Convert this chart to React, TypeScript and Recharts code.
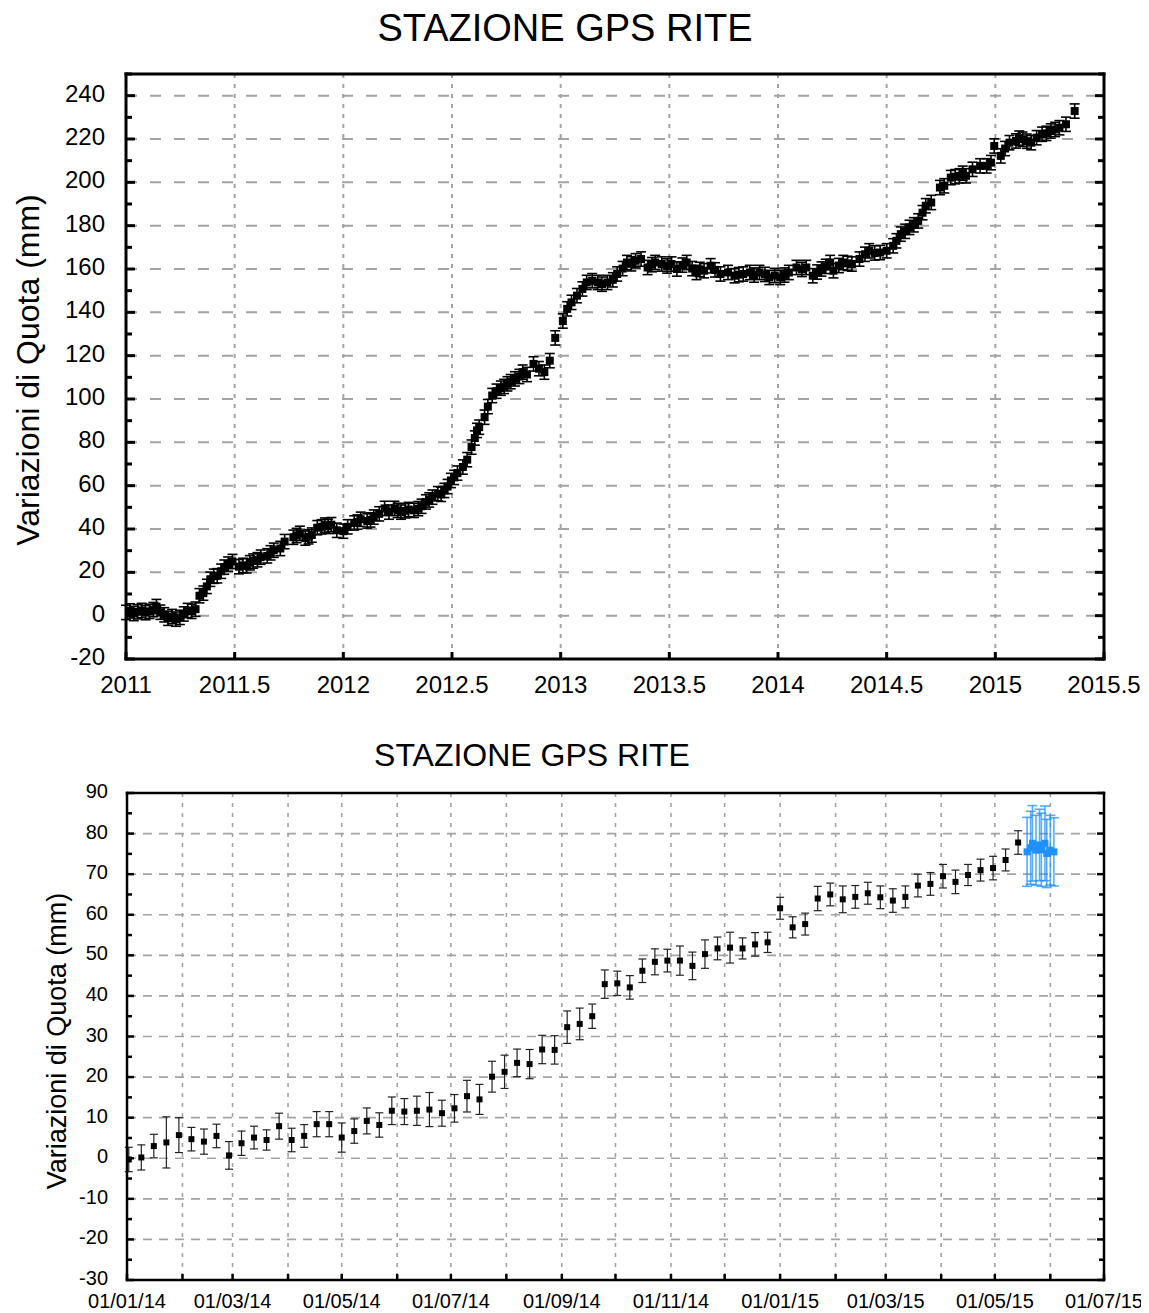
import React from 'react';
import { ScatterChart, Scatter, XAxis, YAxis, ErrorBar, CartesianGrid } from 'recharts';

const FONT = '"Liberation Sans", Arial, Helvetica, sans-serif';

// ---------------- top chart data (decimal year, mm) ----------------
const topSeries: [number, number][] = [
  [2011.000, 1.5], [2011.018, 2.2], [2011.036, 1.0], [2011.054, 1.8], [2011.072, 2.4],
  [2011.090, 1.4], [2011.108, 2.0], [2011.126, 2.8], [2011.140, 4.2], [2011.158, 1.6],
  [2011.176, 0.4], [2011.194, -1.2], [2011.212, -0.4], [2011.230, -1.6], [2011.248, -0.8],
  [2011.266, 0.8], [2011.284, 2.4], [2011.302, 2.0], [2011.320, 3.0], [2011.338, 9.2],
  [2011.356, 10.4], [2011.372, 13.5], [2011.388, 16.8], [2011.404, 18.2], [2011.420, 18.4],
  [2011.438, 20.5], [2011.452, 22.4], [2011.470, 23.8], [2011.490, 25.0], [2011.520, 22.6],
  [2011.538, 23.2], [2011.555, 23.0], [2011.570, 24.4], [2011.585, 25.2], [2011.605, 25.8],
  [2011.620, 27.0], [2011.650, 27.6], [2011.665, 29.0], [2011.680, 30.2], [2011.710, 31.0],
  [2011.730, 34.2], [2011.770, 36.2], [2011.785, 37.0], [2011.800, 38.0], [2011.825, 35.8],
  [2011.840, 36.4], [2011.855, 37.2], [2011.880, 40.6], [2011.900, 41.0], [2011.915, 41.8],
  [2011.930, 41.2], [2011.945, 42.0], [2011.970, 39.4], [2012.000, 39.0], [2012.020, 41.0],
  [2012.050, 42.8], [2012.065, 43.2], [2012.080, 44.5], [2012.110, 43.7], [2012.125, 44.2],
  [2012.140, 45.5], [2012.165, 47.0], [2012.190, 49.5], [2012.210, 47.8], [2012.235, 49.5],
  [2012.250, 48.6], [2012.265, 47.8], [2012.285, 48.4], [2012.300, 49.0], [2012.325, 48.6],
  [2012.345, 49.4], [2012.360, 50.5], [2012.380, 52.5], [2012.395, 53.4], [2012.410, 54.7],
  [2012.435, 56.3], [2012.450, 56.0], [2012.465, 57.8], [2012.480, 59.6], [2012.495, 62.4],
  [2012.510, 63.8], [2012.525, 65.8], [2012.550, 68.6], [2012.570, 72.0], [2012.590, 77.8],
  [2012.605, 82.0], [2012.615, 85.5], [2012.625, 87.0], [2012.650, 91.6], [2012.665, 96.5],
  [2012.685, 101.6], [2012.705, 103.6], [2012.725, 105.0], [2012.740, 105.8], [2012.755, 107.0],
  [2012.770, 108.0], [2012.790, 109.3], [2012.810, 110.4], [2012.825, 112.4], [2012.845, 111.3],
  [2012.875, 116.2], [2012.900, 114.0], [2012.925, 112.4], [2012.950, 117.7], [2012.975, 128.2],
  [2013.010, 136.0], [2013.030, 141.6], [2013.050, 144.6], [2013.075, 147.7], [2013.100, 150.8],
  [2013.120, 153.8], [2013.145, 154.6], [2013.170, 153.8], [2013.190, 153.0], [2013.215, 153.8],
  [2013.240, 155.0], [2013.260, 157.7], [2013.285, 160.2], [2013.305, 163.0], [2013.325, 162.4],
  [2013.345, 163.8], [2013.370, 164.6], [2013.400, 160.7], [2013.420, 162.0], [2013.435, 163.0],
  [2013.465, 162.3], [2013.490, 161.4], [2013.510, 162.3], [2013.535, 160.0], [2013.560, 161.8],
  [2013.580, 163.0], [2013.605, 160.2], [2013.625, 158.4], [2013.640, 159.8], [2013.660, 159.2],
  [2013.690, 161.5], [2013.710, 159.6], [2013.735, 157.7], [2013.770, 158.4], [2013.800, 156.9],
  [2013.820, 157.4], [2013.840, 157.7], [2013.870, 158.4], [2013.890, 157.2], [2013.915, 158.4],
  [2013.940, 157.5], [2013.960, 156.1], [2013.985, 157.0], [2014.010, 156.1], [2014.030, 157.2],
  [2014.050, 158.4], [2014.085, 160.7], [2014.110, 159.8], [2014.130, 160.7], [2014.160, 156.9],
  [2014.180, 158.6], [2014.200, 160.0], [2014.220, 161.2], [2014.240, 163.0], [2014.255, 159.2],
  [2014.280, 161.6], [2014.300, 163.0], [2014.320, 162.6], [2014.340, 162.3], [2014.375, 164.6],
  [2014.400, 166.8], [2014.420, 168.4], [2014.445, 167.4], [2014.470, 167.6], [2014.500, 168.4],
  [2014.530, 170.7], [2014.545, 173.0], [2014.565, 176.1], [2014.585, 177.4], [2014.605, 179.2],
  [2014.625, 180.4], [2014.645, 182.2], [2014.665, 186.0], [2014.680, 189.2], [2014.705, 190.7],
  [2014.745, 197.6], [2014.765, 198.4], [2014.795, 202.2], [2014.815, 202.6], [2014.835, 203.0],
  [2014.850, 204.2], [2014.865, 203.0], [2014.895, 206.0], [2014.930, 207.6], [2014.960, 207.6],
  [2014.980, 209.1], [2014.995, 216.8], [2015.025, 212.2], [2015.045, 215.6], [2015.065, 218.3],
  [2015.095, 219.1], [2015.110, 220.4], [2015.125, 219.9], [2015.145, 219.0], [2015.165, 218.3],
  [2015.190, 220.6], [2015.215, 222.2], [2015.235, 222.6], [2015.255, 223.7], [2015.275, 224.4],
  [2015.295, 225.2], [2015.325, 226.8], [2015.365, 232.9],
];
const TOP_ERR = 3.3;

const topYTicks = [-20, -10, 0, 10, 20, 30, 40, 50, 60, 70, 80, 90, 100, 110, 120, 130, 140, 150, 160, 170, 180, 190, 200, 210, 220, 230, 240, 250];
const topYLabels = [-20, 0, 20, 40, 60, 80, 100, 120, 140, 160, 180, 200, 220, 240];
const topHGrid = [0, 20, 40, 60, 80, 100, 120, 140, 160, 180, 200, 220, 240];
const topXTicks = [2011, 2011.5, 2012, 2012.5, 2013, 2013.5, 2014, 2014.5, 2015, 2015.5];
const topVGrid = [2011.5, 2012, 2012.5, 2013, 2013.5, 2014, 2014.5, 2015];

// ---------------- bottom chart data (days since 01/01/14, mm) ----------------
const bottomDays = [
  1, 8, 15, 22, 29, 36, 43, 50, 57, 64, 71, 78, 85, 92, 99, 106, 113, 120, 127, 134,
  141, 148, 155, 162, 169, 176, 183, 190, 197, 204, 211, 218, 225, 232, 239, 246, 253, 260, 267, 274,
  281, 288, 295, 302, 309, 316, 323, 330, 337, 344, 351, 358, 365, 372, 379, 386, 393, 400, 407, 414,
  421, 428, 435, 442, 449, 456, 463, 470, 477, 484, 491, 498,
];
const bottomValues = [
  -0.3, 0.2, 3.0, 3.9, 5.7, 4.7, 4.1, 5.5, 0.7, 3.7, 5.1, 4.5, 7.9, 4.5, 5.5, 8.4, 8.4, 5.1, 6.7, 9.2,
  8.2, 11.7, 11.5, 11.7, 12.0, 11.1, 12.3, 15.3, 14.5, 20.1, 21.3, 23.5, 23.2, 26.8, 26.7, 32.3, 33.1, 35.0, 42.9, 43.1,
  42.1, 46.2, 48.4, 48.7, 48.7, 47.4, 50.3, 51.7, 51.9, 51.7, 52.7, 53.2, 61.6, 56.9, 57.7, 64.0, 65.0, 63.8, 64.4, 65.3,
  64.3, 63.5, 64.4, 67.2, 67.6, 69.5, 68.1, 69.8, 71.0, 71.5, 73.5, 77.8,
];
const bottomErrors = [
  3.0, 3.1, 2.9, 6.3, 4.3, 2.9, 3.1, 2.9, 3.4, 3.0, 2.8, 2.5, 3.2, 2.9, 2.8, 3.1, 3.1, 3.6, 3.0, 3.2,
  3.0, 3.4, 3.2, 3.6, 4.2, 3.2, 3.4, 3.9, 3.7, 3.8, 4.1, 3.4, 3.6, 3.5, 3.5, 4.0, 3.9, 3.0, 3.5, 3.0,
  2.9, 2.9, 3.2, 2.8, 3.6, 3.4, 3.5, 2.8, 3.8, 2.6, 2.9, 2.5, 2.7, 2.6, 2.7, 3.0, 2.8, 3.3, 2.8, 2.7,
  2.8, 2.9, 2.7, 2.8, 2.8, 2.9, 2.9, 2.6, 2.7, 2.9, 2.7, 2.9,
];
const blueDays = [503, 505, 506, 508, 510, 511, 513, 514, 516, 518];
const blueValues = [75.5, 76.5, 77.6, 75.9, 77.2, 76.0, 77.6, 75.1, 75.9, 75.5];
const blueErrors = [8.5, 9.0, 9.3, 8.6, 8.8, 9.0, 9.2, 8.4, 8.6, 8.4];

const monthDays = [0, 31, 59, 90, 120, 151, 181, 212, 243, 273, 304, 334, 365, 396, 424, 455, 485, 516, 546];
const monthLabels = ['01/01/14', '', '01/03/14', '', '01/05/14', '', '01/07/14', '', '01/09/14', '', '01/11/14', '',
  '01/01/15', '', '01/03/15', '', '01/05/15', '', '01/07/15'];
const bottomYTicks = [-30, -25, -20, -15, -10, -5, 0, 5, 10, 15, 20, 25, 30, 35, 40, 45, 50, 55, 60, 65, 70, 75, 80, 85, 90];
const bottomYLabels = [-30, -20, -10, 0, 10, 20, 30, 40, 50, 60, 70, 80, 90];
const bottomHGrid = [-20, -10, 0, 10, 20, 30, 40, 50, 60, 70, 80];
const bottomVGrid = monthDays.slice(1, monthDays.length - 1);

// ---------------- helpers ----------------
const near = (a: number, b: number) => Math.abs(a - b) < 1e-6;

function AxisTick(props: any) {
  const { x, y, payload, side, gap, majorLen, minorLen, majors, labelFor, fontSize, sw, dyText } = props;
  const v = payload.value;
  const isMajor = majors.some((m: number) => near(m, v));
  const len = isMajor ? majorLen : minorLen;
  const label = labelFor ? labelFor(v) : '';
  if (side === 'left') {
    const ax = x + gap;
    return (
      <g>
        <line x1={ax} x2={ax + len} y1={y} y2={y} stroke="#000" strokeWidth={sw} />
        {label !== '' && (
          <text x={x} y={y} dy={dyText} textAnchor="end" fontSize={fontSize} fontFamily={FONT} fill="#000">{label}</text>
        )}
      </g>
    );
  }
  if (side === 'right') {
    const ax = x - gap;
    return <line x1={ax} x2={ax - len} y1={y} y2={y} stroke="#000" strokeWidth={sw} />;
  }
  if (side === 'top') {
    const ay = y + gap;
    return <line x1={x} x2={x} y1={ay} y2={ay + len} stroke="#000" strokeWidth={sw} />;
  }
  const ay = y - gap;
  return (
    <g>
      <line x1={x} x2={x} y1={ay} y2={ay - len} stroke="#000" strokeWidth={sw} />
      {label !== '' && (
        <text x={x} y={y} dy={dyText} textAnchor="middle" fontSize={fontSize} fontFamily={FONT} fill="#000">{label}</text>
      )}
    </g>
  );
}

const square = (size: number, color: string) => (p: any) => (
  <rect x={p.cx - size / 2} y={p.cy - size / 2} width={size} height={size} fill={color} />
);

const topData = topSeries.map(([x, y]) => ({ x, y, err: TOP_ERR }));
const bottomData = bottomDays.map((d, i) => ({ x: d, y: bottomValues[i], err: bottomErrors[i] }));
const blueData = blueDays.map((d, i) => ({ x: d, y: blueValues[i], err: blueErrors[i] }));

const fmtNum = (labels: number[]) => (v: number) => (labels.some((l) => near(l, v)) ? String(v) : '');
const fmtMonth = (v: number) => {
  const i = monthDays.indexOf(v);
  return i >= 0 ? monthLabels[i] : '';
};

const CHART_W = 1141;

function TopChart() {
  const axisLine = { stroke: '#000', strokeWidth: 3, strokeLinecap: 'square' as const };
  return (
    <ScatterChart width={CHART_W} height={700} margin={{ top: 65, right: 44, bottom: 9, left: 48 }}>
      <CartesianGrid xAxisId="b" yAxisId="l" horizontal vertical={false} horizontalValues={topHGrid}
        stroke="#a3a3a3" strokeWidth={2} strokeDasharray="11 13" />
      <CartesianGrid xAxisId="b" yAxisId="l" horizontal={false} vertical verticalValues={topVGrid}
        stroke="#a3a3a3" strokeWidth={2} strokeDasharray="4 6" />
      <XAxis xAxisId="b" type="number" dataKey="x" domain={[2011, 2015.5]} allowDataOverflow ticks={topXTicks}
        interval={0} height={40} tickSize={0} tickMargin={25} tickLine={false} axisLine={axisLine}
        tick={(p: any) => <AxisTick {...p} side="bottom" gap={25} majorLen={7} minorLen={7} majors={topXTicks}
          labelFor={(v: number) => String(v)} fontSize={24} sw={3} dyText="0.36em" />} />
      <XAxis xAxisId="t" orientation="top" type="number" domain={[2011, 2015.5]} allowDataOverflow ticks={topXTicks}
        interval={0} height={1} tickSize={0} tickMargin={0} tickLine={false} axisLine={axisLine}
        tick={(p: any) => <AxisTick {...p} side="top" gap={0} majorLen={8} minorLen={8} majors={topXTicks} sw={3} />} />
      <YAxis yAxisId="l" type="number" dataKey="y" domain={[-20, 250]} allowDataOverflow ticks={topYTicks}
        interval={0} width={70} tickSize={0} tickMargin={21} tickLine={false} axisLine={axisLine}
        tick={(p: any) => <AxisTick {...p} side="left" gap={21} majorLen={9} minorLen={6} majors={topYLabels}
          labelFor={fmtNum(topYLabels)} fontSize={24} sw={3} dyText="0.25em" />} />
      <YAxis yAxisId="r" orientation="right" type="number" domain={[-20, 250]} allowDataOverflow ticks={topYTicks}
        interval={0} width={1} tickSize={0} tickMargin={0} tickLine={false} axisLine={axisLine}
        tick={(p: any) => <AxisTick {...p} side="right" gap={0} majorLen={9} minorLen={6} majors={topYLabels} sw={3} />} />
      <Scatter xAxisId="b" yAxisId="l" data={topData} isAnimationActive={false} fill="#000" shape={square(8, '#000')}>
        <ErrorBar dataKey="err" direction="y" width={5} stroke="#000" strokeWidth={1.6} isAnimationActive={false} />
      </Scatter>
    </ScatterChart>
  );
}

function BottomChart() {
  const axisLine = { stroke: '#000', strokeWidth: 2.5, strokeLinecap: 'square' as const };
  return (
    <ScatterChart width={CHART_W} height={565} margin={{ top: 44, right: 44, bottom: 5, left: 49 }}>
      <CartesianGrid xAxisId="b" yAxisId="l" horizontal vertical={false} horizontalValues={bottomHGrid}
        stroke="#a3a3a3" strokeWidth={1.6} strokeDasharray="9 7" />
      <CartesianGrid xAxisId="b" yAxisId="l" horizontal={false} vertical verticalValues={bottomVGrid}
        stroke="#a3a3a3" strokeWidth={1.6} strokeDasharray="4 6" />
      <XAxis xAxisId="b" type="number" dataKey="x" domain={[0, 546]} allowDataOverflow ticks={monthDays}
        interval={0} height={28} tickSize={0} tickMargin={21} tickLine={false} axisLine={axisLine}
        tick={(p: any) => <AxisTick {...p} side="bottom" gap={21} majorLen={6} minorLen={6} majors={monthDays}
          labelFor={fmtMonth} fontSize={20} sw={2.5} dyText="0.36em" />} />
      <XAxis xAxisId="t" orientation="top" type="number" domain={[0, 546]} allowDataOverflow ticks={monthDays}
        interval={0} height={1} tickSize={0} tickMargin={0} tickLine={false} axisLine={axisLine}
        tick={(p: any) => <AxisTick {...p} side="top" gap={0} majorLen={6} minorLen={6} majors={monthDays} sw={2.5} />} />
      <YAxis yAxisId="l" type="number" dataKey="y" domain={[-30, 90]} allowDataOverflow ticks={bottomYTicks}
        interval={0} width={70} tickSize={0} tickMargin={19} tickLine={false} axisLine={axisLine}
        tick={(p: any) => <AxisTick {...p} side="left" gap={19} majorLen={7} minorLen={5} majors={bottomYLabels}
          labelFor={fmtNum(bottomYLabels)} fontSize={20} sw={2.5} dyText="0.25em" />} />
      <YAxis yAxisId="r" orientation="right" type="number" domain={[-30, 90]} allowDataOverflow ticks={bottomYTicks}
        interval={0} width={1} tickSize={0} tickMargin={0} tickLine={false} axisLine={axisLine}
        tick={(p: any) => <AxisTick {...p} side="right" gap={0} majorLen={7} minorLen={5} majors={bottomYLabels} sw={2.5} />} />
      <Scatter xAxisId="b" yAxisId="l" data={bottomData} isAnimationActive={false} fill="#000" shape={square(6, '#000')}>
        <ErrorBar dataKey="err" direction="y" width={4} stroke="#222" strokeWidth={1.2} isAnimationActive={false} />
      </Scatter>
      <Scatter xAxisId="b" yAxisId="l" data={blueData} isAnimationActive={false} fill="#1e90ff" shape={square(7, '#1e90ff')}>
        <ErrorBar dataKey="err" direction="y" width={5} stroke="rgba(30,144,255,0.75)" strokeWidth={1.6} isAnimationActive={false} />
      </Scatter>
    </ScatterChart>
  );
}

export default function App() {
  return (
    <div style={{ position: 'relative', width: CHART_W, height: 1305, fontFamily: FONT, color: '#000' }}>
      <div style={{ position: 'absolute', left: 0, top: 0 }}>
        <TopChart />
      </div>
      <div style={{ position: 'absolute', left: 0, top: 740 }}>
        <BottomChart />
      </div>
      <div style={{ position: 'absolute', left: 557, top: 20, transform: 'translate(-50%,-50%)', fontSize: 38, whiteSpace: 'nowrap', lineHeight: 1 }}>
        STAZIONE GPS RITE
      </div>
      <div style={{ position: 'absolute', left: 524, top: 747, transform: 'translate(-50%,-50%)', fontSize: 32, whiteSpace: 'nowrap', lineHeight: 1 }}>
        STAZIONE GPS RITE
      </div>
      <div style={{ position: 'absolute', left: 20, top: 362, transform: 'translate(-50%,-50%) rotate(-90deg)', fontSize: 32, whiteSpace: 'nowrap', lineHeight: 1 }}>
        Variazioni di Quota (mm)
      </div>
      <div style={{ position: 'absolute', left: 49, top: 1033, transform: 'translate(-50%,-50%) rotate(-90deg)', fontSize: 27, whiteSpace: 'nowrap', lineHeight: 1 }}>
        Variazioni di Quota (mm)
      </div>
    </div>
  );
}
